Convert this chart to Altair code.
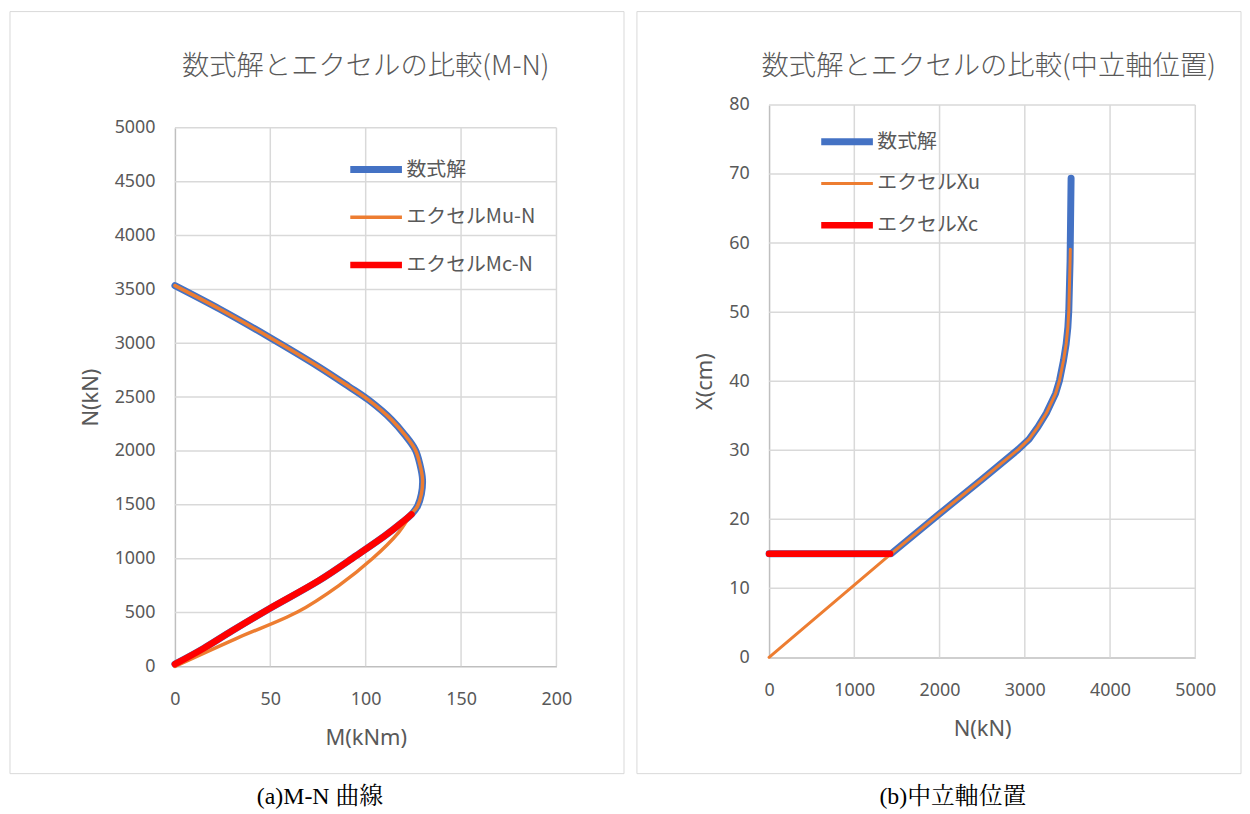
import altair as alt
import pandas as pd

# ---------------- (a) M-N curve ----------------
mn_names = ["数式解", "エクセルMu-N", "エクセルMc-N"]
mn_colors = ["#4472C4", "#ED7D31", "#FF0000"]
mn_widths = [7, 3.5, 6.5]

sol_M = [0, 15, 30, 49.5, 75.5, 95, 110, 119, 124, 127.2, 129.2, 129.8, 128.5, 126,
         120.5, 113.7, 101.6, 91, 75.5, 49.5, 23.4, 0]
sol_N = [20, 166, 330, 535, 796, 1027, 1211, 1335, 1411, 1488, 1600, 1734, 1870, 2011,
         2150, 2288, 2472, 2600, 2780, 3056, 3318, 3535]

mu_M = [0, 32.1, 64.2, 85.9, 103.3, 117.2, 123.8, 127.2, 129.2, 129.8, 128.5, 126,
        120.5, 113.7, 101.6, 91, 75.5, 49.5, 23.4, 0]
mu_N = [0, 258, 504, 750, 996, 1242, 1411, 1488, 1600, 1734, 1870, 2011,
        2150, 2288, 2472, 2600, 2780, 3056, 3318, 3535]

mc_M = [0, 15, 30, 49.5, 75.5, 95, 110, 119, 124]
mc_N = [20, 166, 330, 535, 796, 1027, 1211, 1335, 1411]

mn_x_ticks = [0, 50, 100, 150, 200]
mn_y_ticks = [0, 500, 1000, 1500, 2000, 2500, 3000, 3500, 4000, 4500, 5000]

# ---------------- (b) neutral axis position ----------------
x_names = ["数式解", "エクセルXu", "エクセルXc"]
x_colors = ["#4472C4", "#ED7D31", "#FF0000"]
x_widths = [7, 3, 6.5]

xsol_N = [0, 1430, 2000, 2500, 2921, 3050, 3155, 3252, 3361, 3407, 3454, 3485, 3505,
          3516, 3531, 3543]
xsol_X = [15, 15, 20.8, 25.8, 30.1, 31.6, 33.4, 35.35, 38.2, 40.1, 43.0, 45.4, 47.8,
          50.2, 57.4, 69.4]

xu_N = [0, 1430, 2000, 2500, 2921, 3050, 3155, 3252, 3361, 3407, 3454, 3485, 3505,
        3516, 3531, 3534]
xu_X = [0, 15, 20.8, 25.8, 30.1, 31.6, 33.4, 35.35, 38.2, 40.1, 43.0, 45.4, 47.8,
        50.2, 57.4, 59.1]

xc_N = [0, 1420]
xc_X = [15, 15]

x_x_ticks = [0, 1000, 2000, 3000, 4000, 5000]
x_y_ticks = [0, 10, 20, 30, 40, 50, 60, 70, 80]

GRAY = "#595959"
GRID = "#d9d9d9"
CJK = "Noto Sans CJK JP"
SERIF = "Liberation Serif, Noto Serif CJK JP, Noto Sans CJK JP"


def make_df(names, xs_list, ys_list):
    rows = []
    for name, xs, ys in zip(names, xs_list, ys_list):
        for i, (xv, yv) in enumerate(zip(xs, ys)):
            rows.append({"series": name, "x": xv, "y": yv, "idx": i})
    return pd.DataFrame(rows)


def panel(df, names, colors, widths, x_dom, x_ticks, x_title, y_dom, y_ticks, y_title,
          w, h, top_pad, frame, title_text, title_xy, caption, caption_xy, legend_xy,
          row_pad, interp):
    legend = alt.Legend(
        title=None, orient="none", legendX=legend_xy[0], legendY=legend_xy[1],
        symbolType="stroke", symbolSize=2704, clipHeight=20, rowPadding=row_pad,
        labelFont=CJK, labelFontSize=20, labelColor=GRAY, labelOffset=1, padding=0,
        labelLimit=400,
    )
    cscale = alt.Scale(domain=names, range=colors)
    wscale = alt.Scale(type="ordinal", domain=names, range=widths)
    xscale = alt.Scale(domain=x_dom, nice=False)
    yscale = alt.Scale(domain=y_dom, nice=False, range=[h + top_pad, top_pad])
    xaxis = alt.Axis(values=x_ticks, title=x_title, format="d", grid=False)
    yaxis = alt.Axis(values=y_ticks, title=y_title, format="d", grid=False)
    one = alt.Data(values=[{"a": 1}])

    frame_layer = alt.Chart(one).mark_rect(
        filled=False, stroke=GRID, strokeWidth=1
    ).encode(
        x=alt.value(frame[0]), x2=alt.value(frame[1]),
        y=alt.value(frame[2]), y2=alt.value(frame[3]),
    )
    # gridlines (skip the ones lying on the axis lines)
    vgrid = alt.Chart(pd.DataFrame({"t": x_ticks[1:]})).mark_rule(
        color=GRID, strokeWidth=1.5
    ).encode(
        x=alt.X("t:Q", scale=xscale, axis=xaxis),
        y=alt.YDatum(y_dom[0], scale=yscale, axis=yaxis), y2=alt.datum(y_dom[1]),
    )
    hgrid = alt.Chart(pd.DataFrame({"t": y_ticks[1:]})).mark_rule(
        color=GRID, strokeWidth=1.5
    ).encode(
        y=alt.Y("t:Q", scale=yscale, axis=yaxis),
        x=alt.XDatum(x_dom[0], scale=xscale, axis=xaxis), x2=alt.datum(x_dom[1]),
    )
    title_layer = alt.Chart(one).mark_text(
        font=CJK, fontSize=27.5, fontWeight=300, color=GRAY, align="center",
        baseline="middle"
    ).encode(x=alt.value(title_xy[0]), y=alt.value(title_xy[1]), text=alt.value(title_text))
    caption_layer = alt.Chart(one).mark_text(
        font=SERIF, fontSize=24, color="#000000", align="center", baseline="middle"
    ).encode(x=alt.value(caption_xy[0]), y=alt.value(caption_xy[1]), text=alt.value(caption))

    layers = [frame_layer, vgrid, hgrid]
    for name in names:
        layers.append(
            alt.Chart(df).transform_filter(alt.datum.series == name).mark_line(
                interpolate=interp, strokeCap="round", strokeJoin="round"
            ).encode(
                x=alt.X("x:Q", scale=xscale, axis=xaxis),
                y=alt.Y("y:Q", scale=yscale, axis=yaxis),
                color=alt.Color("series:N", scale=cscale, legend=legend),
                strokeWidth=alt.StrokeWidth("series:N", scale=wscale, legend=legend),
                order=alt.Order("idx:Q"),
            )
        )
    layers += [title_layer, caption_layer]
    return alt.layer(*layers).properties(width=w, height=h + top_pad)


# Both panels share the same group origin (page y = 103); the left plot starts 23px lower.
left = panel(
    make_df(mn_names, [sol_M, mu_M, mc_M], [sol_N, mu_N, mc_N]),
    mn_names, mn_colors, mn_widths,
    [0, 200], mn_x_ticks, "M(kNm)", [0, 5000], mn_y_ticks, "N(kN)",
    384, 542, 23, (-166, 452, -94, 673),
    "数式解とエクセルの比較(M-N)", (192, -38),
    "(a)M-N 曲線", (146, 697), (173, 55), 28, "catmull-rom",
)

right = panel(
    make_df(x_names, [xsol_N, xu_N, xc_N], [xsol_X, xu_X, xc_X]),
    x_names, x_colors, x_widths,
    [0, 5000], x_x_ticks, "N(kN)", [0, 80], x_y_ticks, "X(cm)",
    429, 556, 0, (-133, 475, -94, 673),
    "数式解とエクセルの比較(中立軸位置)", (221, -38),
    "(b)中立軸位置", (185, 697), (49, 27), 22, "linear",
)

chart = alt.hconcat(left, right, spacing=11).resolve_scale(
    color="independent", strokeWidth="independent"
).resolve_legend(
    color="independent", strokeWidth="independent"
).properties(
    padding={"left": 1, "top": 0, "right": 0, "bottom": 0}
).configure_view(
    stroke="transparent"
).configure_axis(
    domainColor="#bfbfbf", domainWidth=1.5, ticks=False, tickSize=0,
    labelFlush=False,
    labelFont="Noto Sans", labelFontSize=18, labelColor=GRAY,
    titleFont="Noto Sans", titleFontSize=22, titleFontWeight="normal", titleColor=GRAY,
).configure_axisX(
    labelPadding=24, titlePadding=20
).configure_axisY(
    labelPadding=20, titlePadding=12
)

chart.save("out.html", embed_options={"renderer": "svg", "actions": False})
